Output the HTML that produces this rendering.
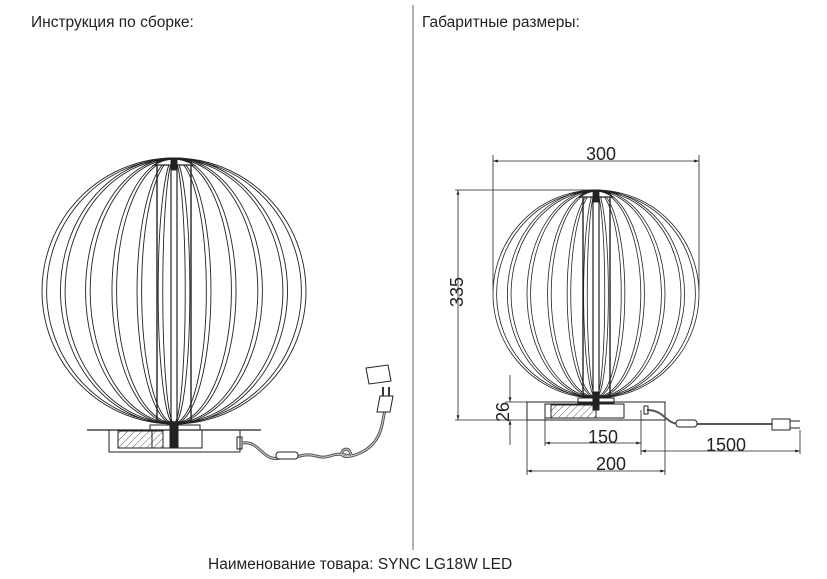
<!DOCTYPE html>
<html><head><meta charset="utf-8"><style>
html,body{margin:0;padding:0;background:#fff;}
svg{display:block;}
text{font-family:"Liberation Sans",sans-serif;fill:#222;}
</style></head><body>
<svg id="s" width="827" height="579" viewBox="0 0 827 579" xmlns="http://www.w3.org/2000/svg">
<defs>
<pattern id="h" width="5" height="5" patternUnits="userSpaceOnUse" patternTransform="rotate(45)">
<line x1="0" y1="0" x2="0" y2="5" stroke="#333" stroke-width="0.8"/></pattern>
<marker id="a" viewBox="0 0 10 10" refX="10" refY="5" markerWidth="9" markerHeight="6" orient="auto-start-reverse">
<path d="M0,2 L10,5 L0,8z" fill="#222"/></marker>
</defs>
<text x="31" y="27" font-size="15.5">Инструкция по сборке:</text>
<text x="422" y="27" font-size="15.5">Габаритные размеры:</text>
<line x1="413" y1="5" x2="413" y2="550" stroke="#666" stroke-width="1"/>
<text x="208" y="569" font-size="15.5">Наименование товара: SYNC LG18W LED</text>

<g id="g1" fill="none" stroke="#222" stroke-width="0.9"></g>
<g id="g2" fill="none" stroke="#222" stroke-width="0.8"></g>

<!-- left base -->
<g fill="none" stroke="#222" stroke-width="1">
<line x1="87" y1="430" x2="261" y2="430" stroke-width="1.3"/>
<rect x="109" y="430" width="131" height="22"/>
<rect x="118" y="431" width="45" height="17" fill="url(#h)"/>
<rect x="152" y="430" width="50" height="18"/>
<rect x="150" y="425" width="50" height="5"/>
<rect x="170" y="422" width="8" height="25" fill="#222"/>
<rect x="237" y="437" width="5" height="12"/>
<path d="M242,443 C260,440 262,462 280,458 L300,456 C315,452 318,460 330,456 C345,450 355,462 350,452 C345,442 332,462 355,455 C370,450 380,440 383,420 L385,410" stroke="#555" stroke-width="3"/>
<path d="M242,443 C260,440 262,462 280,458 L300,456 C315,452 318,460 330,456 C345,450 355,462 350,452 C345,442 332,462 355,455 C370,450 380,440 383,420 L385,410" stroke="#ccc" stroke-width="1"/>
<rect x="276" y="452" width="22" height="7" rx="3" fill="#fff"/>
<path d="M377,412 L380,396 L393,396 L390,412z" fill="#fff"/>
<line x1="383" y1="396" x2="383" y2="387" stroke-width="1.8"/>
<line x1="389" y1="396" x2="389" y2="387" stroke-width="1.8"/>
<path d="M366,368 L388,365 L391,381 L369,384z" fill="#fff"/>
</g>

<!-- right base & dims -->
<g fill="none" stroke="#222" stroke-width="1">
<rect x="527" y="402" width="138" height="18"/>
<rect x="545" y="404" width="79" height="14"/>
<rect x="551" y="405" width="45" height="13" fill="url(#h)"/>
<rect x="578" y="398" width="36" height="5"/>
<rect x="593" y="392" width="6" height="18" fill="#222"/>
<path d="M647,410 C665,410 665,424 680,424 L697,424 L772,424" stroke="#555" stroke-width="2"/>
<rect x="676" y="420" width="21" height="7" rx="3" fill="#fff"/>
<rect x="772" y="419" width="18" height="11" fill="#fff"/>
<line x1="790" y1="421" x2="800" y2="421"/><line x1="790" y1="428" x2="800" y2="428"/>
<rect x="644" y="406" width="4" height="8"/>
</g>
<g stroke="#222" stroke-width="0.8" fill="none">
<line x1="493" y1="155" x2="493" y2="290"/><line x1="699" y1="155" x2="699" y2="290"/>
<line x1="493" y1="161" x2="699" y2="161" marker-start="url(#a)" marker-end="url(#a)"/>
<line x1="455" y1="190" x2="600" y2="190"/><line x1="455" y1="420" x2="527" y2="420"/>
<line x1="458" y1="190" x2="458" y2="420" marker-start="url(#a)" marker-end="url(#a)"/>
<line x1="505" y1="402" x2="527" y2="402"/>
<line x1="510" y1="375" x2="510" y2="402" marker-end="url(#a)"/>
<line x1="510" y1="445" x2="510" y2="420" marker-end="url(#a)"/>
<line x1="545" y1="418" x2="545" y2="446"/><line x1="641" y1="410" x2="641" y2="455"/>
<line x1="545" y1="443" x2="641" y2="443" marker-start="url(#a)" marker-end="url(#a)"/>
<line x1="800" y1="430" x2="800" y2="454"/>
<line x1="641" y1="451" x2="800" y2="451" marker-start="url(#a)" marker-end="url(#a)"/>
<line x1="527" y1="420" x2="527" y2="475"/><line x1="665" y1="420" x2="665" y2="475"/>
<line x1="527" y1="471" x2="665" y2="471" marker-start="url(#a)" marker-end="url(#a)"/>
</g>
<text x="586" y="160" font-size="18">300</text>
<text transform="translate(463,307) rotate(-90)" font-size="18">335</text>
<text transform="translate(509,422) rotate(-90)" font-size="18">26</text>
<text x="588" y="443" font-size="18">150</text>
<text x="706" y="451" font-size="18">1500</text>
<text x="596" y="470" font-size="18">200</text>
</svg>
<script>
function globe(id,cx,cy,rx,ry,top,bot,r1,r2){
 var g=document.getElementById(id),s='';
 var f=[1,0.86,0.67,0.47,0.28,0.12];
 for(var i=0;i<f.length;i++){var r=rx*f[i];
  s+='<ellipse cx="'+cx+'" cy="'+cy+'" rx="'+r+'" ry="'+ry+'"/>';
  s+='<ellipse cx="'+cx+'" cy="'+cy+'" rx="'+(r-rx*0.035)+'" ry="'+(ry-1)+'"/>';}
 s+='<rect x="'+r1+'" y="'+top+'" width="'+(r2-r1)+'" height="'+(bot-top)+'" stroke-width="1.4"/>';
 s+='<rect x="'+(cx-3)+'" y="'+top+'" width="6" height="'+(bot-top)+'" stroke-width="1.2"/>';
 s+='<path d="M'+(r1-3)+','+(top+4)+' Q'+cx+','+(top-8)+' '+(r2+3)+','+(top+4)+'z" fill="#fff" stroke-width="1.2"/>';
 s+='<rect x="'+(cx-3)+'" y="'+(top-3)+'" width="6" height="12" fill="#222"/>';
 g.innerHTML=s;
}
globe('g1',174,291,132,133,161,422,157,191);
globe('g2',596,294,103,104,193,396,583,610);
</script>
</body></html>
